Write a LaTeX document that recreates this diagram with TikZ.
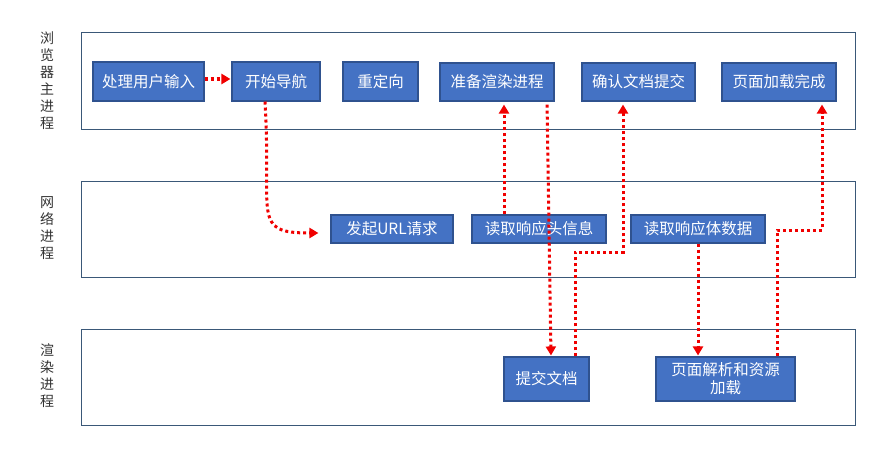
\documentclass[tikz,border=0pt]{standalone}
\usepackage{fontspec}
\setmainfont{Noto Sans CJK SC}
\newfontfamily\cjk{Noto Sans CJK SC}
\usetikzlibrary{arrows.meta}
\definecolor{boxfill}{HTML}{4472C4}
\definecolor{boxline}{HTML}{2F528F}
\definecolor{laneline}{HTML}{3A5878}
\definecolor{arrred}{HTML}{F00000}
\tikzset{
  lane/.style={draw=laneline, line width=1pt},
  lanelabel/.style={font=\cjk\fontsize{14}{17}\selectfont, align=center, text=black!80, inner sep=0pt},
  procbox/.style={draw=boxline, fill=boxfill, text=white, line width=1.1pt, inner sep=0pt,
    font=\cjk\fontsize{15.5}{18}\selectfont, align=center},
  flow/.style={draw=arrred, line width=3pt, dash pattern=on 3pt off 3pt,
    -{Triangle[length=9pt,width=10pt]}, line join=miter},
}
\begin{document}
\begin{tikzpicture}[x=1pt,y=-1pt]
\useasboundingbox (0,0) rectangle (886,452);
% lanes
\draw[lane] (81,33) rectangle (855,129);
\draw[lane] (81,181) rectangle (855,277);
\draw[lane] (81,329) rectangle (855,425);
\node[lanelabel] (l1) at (47,81) {浏\\览\\器\\主\\进\\程};
\node[lanelabel] (l2) at (47,228) {网\\络\\进\\程};
\node[lanelabel] (l3) at (47,376) {渲\\染\\进\\程};
% browser main process
\node[procbox, minimum width=111pt, minimum height=39pt] (p1) at (148.5,81.5) {处理用户输入};
\node[procbox, minimum width=88pt, minimum height=39pt] (p2) at (276,81.5) {开始导航};
\node[procbox, minimum width=75pt, minimum height=39pt] (p3) at (380.5,81.5) {重定向};
\node[procbox, minimum width=114pt, minimum height=38pt] (p4) at (497,82) {准备渲染进程};
\node[procbox, minimum width=113pt, minimum height=38pt] (p5) at (638.5,82) {确认文档提交};
\node[procbox, minimum width=114pt, minimum height=38pt] (p6) at (779,82) {页面加载完成};
% network process
\node[procbox, minimum width=122pt, minimum height=28pt] (n1) at (392,229) {发起URL请求};
\node[procbox, minimum width=134pt, minimum height=28pt] (n2) at (539,229) {读取响应头信息};
\node[procbox, minimum width=134pt, minimum height=28pt] (n3) at (698,229) {读取响应体数据};
% renderer process
\node[procbox, minimum width=85pt, minimum height=44pt] (r1) at (546.5,379) {提交文档};
\node[procbox, minimum width=139pt, minimum height=44pt] (r2) at (725.5,379) {页面解析和资源\\加载};
% flows
\draw[flow, shorten >=1pt] ([yshift=2.5pt]p1.east) -- ([yshift=2.5pt]p2.west);
\draw[flow, shorten >=12pt] ([xshift=-11pt]p2.south) .. controls ([xshift=-4pt,yshift=-115pt]p2.south) and ([xshift=-80pt,yshift=-4pt]n1.west) .. ([yshift=-4pt]n1.west);
\draw[flow, shorten >=3pt] ([xshift=-35pt]n2.north) -- ([xshift=-35pt]n2.north |- p4.south);
\draw[flow, shorten <=3pt, shorten >=1pt] ([xshift=50pt]p4.south) -- ([xshift=4.5pt]r1.north);
\draw[flow, shorten >=3pt] ([xshift=28.5pt]r1.north) -- ([xshift=28.5pt,yshift=104pt]r1.north) -| ([xshift=-15.5pt]p5.south);
\draw[flow, shorten >=1pt] (n3.south) -- ([xshift=-27.5pt]r2.north);
\draw[flow, shorten >=3pt] ([xshift=51.5pt]r2.north) -- ([xshift=51.5pt,yshift=126pt]r2.north) -| ([xshift=43pt]p6.south);
\end{tikzpicture}
\end{document}
